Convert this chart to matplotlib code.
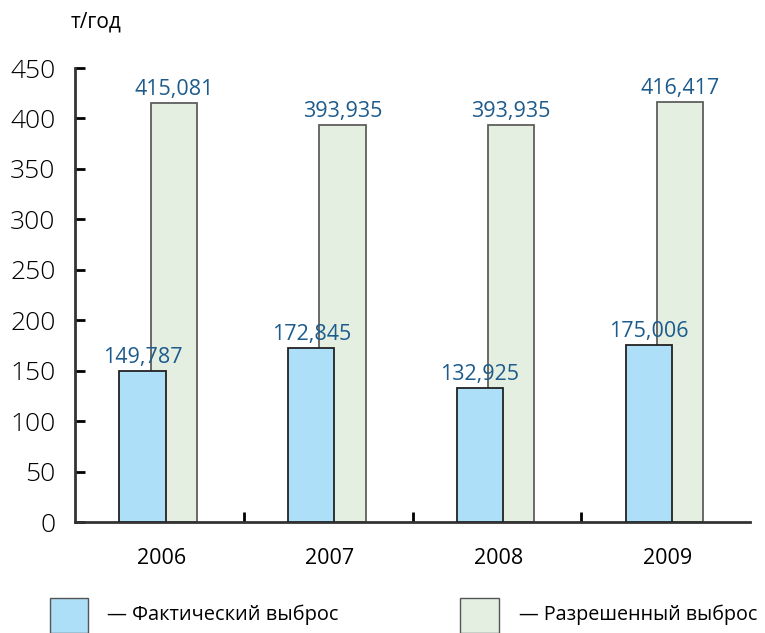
import matplotlib.pyplot as plt
from matplotlib.patches import Rectangle

years = ['2006', '2007', '2008', '2009']
actual = [149.787, 172.845, 132.925, 175.006]
allowed = [415.081, 393.935, 393.935, 416.417]
actual_labels = ['149,787', '172,845', '132,925', '175,006']
allowed_labels = ['415,081', '393,935', '393,935', '416,417']

blue = '#addff8'
green = '#e4efe2'
label_color = '#1d5b8c'
plt.rcParams['font.family'] = ['Open Sans', 'DejaVu Sans']

fig = plt.figure(figsize=(7.65, 6.33), dpi=100)
ax = fig.add_axes([75 / 765, 1 - 522 / 633, 675 / 765, 454 / 633])

x = range(len(years))
w = 0.275
# permitted emission first, actual drawn over it
ax.bar([i + 0.085 for i in x], allowed, width=w, color=green, edgecolor='#5e5e5e', linewidth=1.3, zorder=2)
ax.bar([i - 0.1 for i in x], actual, width=w, color=blue, edgecolor='#222222', linewidth=1.3, zorder=3)

for i in x:
    ax.text(i - 0.1, actual[i] + 3, actual_labels[i], ha='center', va='bottom',
            color=label_color, fontsize=15.5)
    ax.text(i + 0.085, allowed[i] + 3, allowed_labels[i], ha='center', va='bottom',
            color=label_color, fontsize=15.5)

ax.set_xlim(-0.5, 3.5)
ax.set_ylim(0, 450)
ax.set_yticks(range(0, 451, 50))
ax.tick_params(axis='y', direction='in', length=7, width=2, labelsize=19, pad=14)
for lbl in ax.get_yticklabels():
    lbl.set_fontweight('light')
ax.set_xticks([0.5, 1.5, 2.5])
ax.set_xticklabels([])
ax.tick_params(axis='x', direction='in', length=7, width=2)
for i, yr in enumerate(years):
    ax.text(i + 0.01, -26, yr, ha='center', va='top', fontsize=15.5, transform=ax.transData, clip_on=False)

for s in ['top', 'right']:
    ax.spines[s].set_visible(False)
for s in ['left', 'bottom']:
    ax.spines[s].set_linewidth(2)
    ax.spines[s].set_color('#333333')

fig.text(96 / 765, 1 - 22 / 633, 'т/год', ha='center', va='center', fontsize=15)

# legend along the bottom
fig.patches.append(Rectangle((50 / 765, 1 - 633 / 633), 38 / 765, 35 / 633, transform=fig.transFigure,
                             facecolor=blue, edgecolor='#555555', linewidth=1))
fig.patches.append(Rectangle((460 / 765, 1 - 633 / 633), 39 / 765, 35 / 633, transform=fig.transFigure,
                             facecolor=green, edgecolor='#555555', linewidth=1))
fig.text(107 / 765, 1 - 615 / 633, '— Фактический выброс', ha='left', va='center', fontsize=14.4)
fig.text(519 / 765, 1 - 615 / 633, '— Разрешенный выброс', ha='left', va='center', fontsize=14.2)

fig.savefig('out.png', dpi=100)
